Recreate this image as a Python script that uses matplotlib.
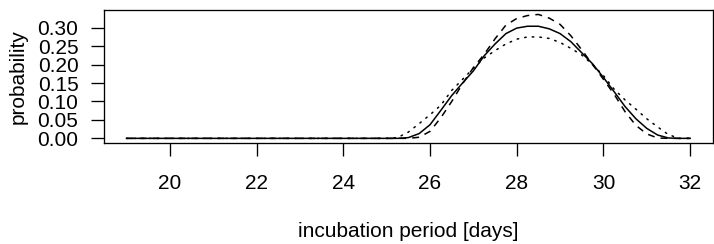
import matplotlib
matplotlib.use("Agg")
import matplotlib.pyplot as plt

# incubation period grid [days]
days = [19, 20, 21, 22, 23, 24,
        25, 25.25, 25.5, 25.75, 26, 26.25, 26.5, 26.75, 27, 27.25, 27.5, 27.75,
        28, 28.25, 28.5, 28.75, 29, 29.25, 29.5, 29.75, 30, 30.25, 30.5, 30.75,
        31, 31.25, 31.5, 31.75, 32]

flat = [0, 0, 0, 0, 0, 0]

prob_solid = flat + [0, 0, 0.002, 0.013, 0.037, 0.076, 0.116, 0.150, 0.183, 0.224,
                     0.256, 0.284, 0.299, 0.304, 0.304, 0.297, 0.284, 0.262, 0.232,
                     0.202, 0.165, 0.126, 0.086, 0.053, 0.027, 0.009, 0.001, 0, 0]

prob_dashed = flat + [0, 0, 0, 0.003, 0.019, 0.056, 0.100, 0.148, 0.192, 0.228,
                      0.270, 0.307, 0.325, 0.333, 0.336, 0.326, 0.309, 0.278, 0.240,
                      0.200, 0.160, 0.119, 0.072, 0.035, 0.012, 0.001, 0, 0, 0]

prob_dotted = flat + [0, 0.002, 0.017, 0.040, 0.064, 0.090, 0.130, 0.160, 0.190, 0.218,
                      0.238, 0.256, 0.269, 0.275, 0.275, 0.271, 0.260, 0.244, 0.226,
                      0.200, 0.170, 0.133, 0.104, 0.079, 0.053, 0.031, 0.010, 0, 0]

x_ticks = [20, 22, 24, 26, 28, 30, 32]
y_ticks = [0.00, 0.05, 0.10, 0.15, 0.20, 0.25, 0.30]
y_tick_labels = ["0.00", "0.05", "0.10", "0.15", "0.20", "0.25", "0.30"]

plt.rcParams['font.family'] = ['Liberation Sans', 'DejaVu Sans']

W, H = 714, 244
fig = plt.figure(figsize=(W / 100, H / 100), dpi=100)
left, right, top, bottom = 104, 712.7, 9.5, 143.3
ax = fig.add_axes([left / W, 1 - bottom / H, (right - left) / W, (bottom - top) / H])

lw = 1.1
ax.plot(days, prob_dotted, color='black', lw=lw, linestyle=(0, (1.0, 4.0)),
        dash_capstyle='round')
ax.plot(days, prob_dashed, color='black', lw=lw, linestyle=(0, (4.5, 4.0)))
ax.plot(days, prob_solid, color='black', lw=lw)

ax.set_xlim(18.48, 32.52)
ax.set_ylim(-0.0134, 0.3494)

ax.set_xticks(x_ticks)
ax.set_xticklabels([str(t) for t in x_ticks])
ax.set_yticks(y_ticks)
ax.set_yticklabels(y_tick_labels)

for s in ax.spines.values():
    s.set_linewidth(0.95)
    s.set_color('black')

ax.tick_params(axis='x', length=9.2, width=0.95, pad=13, labelsize=15, direction='out')
ax.tick_params(axis='y', length=9.5, width=0.95, pad=8.9, labelsize=15, direction='out')

ax.set_xlabel('incubation period [days]', fontsize=15)
ax.xaxis.label.set_va('center')
ax.xaxis.set_label_coords(0.5, -(231.5 - bottom) / (bottom - top))

ax.set_ylabel('probability', fontsize=15, va='center')
ax.yaxis.set_label_coords(-(left - 18.5) / (right - left), 0.5)

fig.savefig('out.png', dpi=100)
